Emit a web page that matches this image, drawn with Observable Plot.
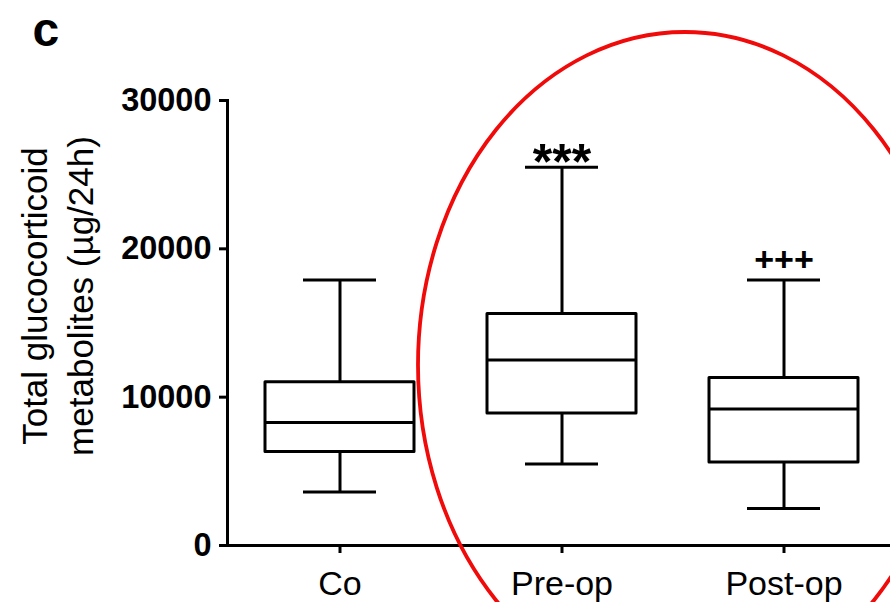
<!DOCTYPE html>
<html>
<head>
<meta charset="utf-8">
<script src="https://cdn.jsdelivr.net/npm/d3@7"></script>
<script src="https://cdn.jsdelivr.net/npm/@observablehq/plot@0.6"></script>
<style>
  html, body { margin: 0; padding: 0; background: #fff; }
  svg { display: block; }
</style>
</head>
<body>
<script>
// ---- data ----
const categories   = ["Co", "Pre-op", "Post-op"];
const whiskerLow   = [3600, 5500, 2500];
const quartile1    = [6300, 8900, 5600];
const medians      = [8300, 12500, 9200];
const quartile3    = [11000, 15600, 11300];
const whiskerHigh  = [17900, 25500, 17900];
const significance = ["", "***", "+++"];
const yTicks       = [0, 10000, 20000, 30000];
const yTitle       = "Total glucocorticoid\nmetabolites (µg/24h)";
const panelLabel   = "c";

const rows = categories.map((c, i) => ({
  cat: c, lo: whiskerLow[i], q1: quartile1[i], med: medians[i],
  q3: quartile3[i], hi: whiskerHigh[i], sig: significance[i]
}));

// red ellipse overlay (annotation, in pixels)
const overlay = { cx: 685, cy: 365, rx: 267, ry: 333, stroke: "#f00a0a", width: 3.8 };

function ellipseMark() {
  return d3.create("svg:ellipse")
    .attr("cx", overlay.cx).attr("cy", overlay.cy)
    .attr("rx", overlay.rx).attr("ry", overlay.ry)
    .attr("fill", "none").attr("stroke", overlay.stroke)
    .attr("stroke-width", overlay.width).node();
}

const sw = 3;
const chart = Plot.plot({
  width: 890, height: 602,
  marginLeft: 227, marginRight: 0, marginTop: 100, marginBottom: 57,
  style: { fontFamily: "'Liberation Sans', Arial, sans-serif", background: "white", color: "black", overflow: "hidden" },
  x: { domain: categories, range: [228, 894], paddingInner: 0.33, paddingOuter: 0.165, label: null },
  y: { domain: [0, 30000], label: null },
  marks: [
    Plot.ruleX(rows, { x: "cat", y1: "lo", y2: "hi", strokeWidth: sw }),
    Plot.tickY(rows, { x: "cat", y: "lo", insetLeft: 38, insetRight: 38, strokeWidth: sw }),
    Plot.tickY(rows, { x: "cat", y: "hi", insetLeft: 38, insetRight: 38, strokeWidth: sw }),
    Plot.barY(rows, { x: "cat", y1: "q1", y2: "q3", fill: "white", stroke: "black", strokeWidth: sw, strokeLinejoin: "round" }),
    Plot.tickY(rows, { x: "cat", y: "med", strokeWidth: sw }),
    Plot.axisY({ ticks: yTicks, tickSize: 8, tickPadding: 8, tickFormat: d3.format("d"), fontSize: 32.5, fontWeight: "bold", strokeWidth: sw, label: null }),
    Plot.axisX({ tickSize: 8, tickPadding: 17, fontSize: 34, strokeWidth: sw, label: null }),
    Plot.ruleY([0], { strokeWidth: sw }),
    Plot.frame({ anchor: "left", strokeWidth: sw }),
    Plot.text(rows.filter(d => d.sig === "***"), { x: "cat", y: "hi", text: "sig", lineAnchor: "bottom", dy: 12, fontSize: 50, fontWeight: "bold" }),
    Plot.text(rows.filter(d => d.sig === "+++"), { x: "cat", y: "hi", text: "sig", lineAnchor: "bottom", dy: -9, fontSize: 34, fontWeight: "bold" }),
    Plot.text([yTitle], { frameAnchor: "left", rotate: -90, textAnchor: "middle", lineAnchor: "middle", lineHeight: 1.3, fontSize: 35, dx: -172, dy: -27 }),
    Plot.text([panelLabel], { frameAnchor: "top-left", textAnchor: "start", lineAnchor: "bottom", dx: -195, dy: -55, fontSize: 48, fontWeight: "bold" }),
    ellipseMark
  ]
});
document.body.append(chart);
</script>
</body>
</html>
